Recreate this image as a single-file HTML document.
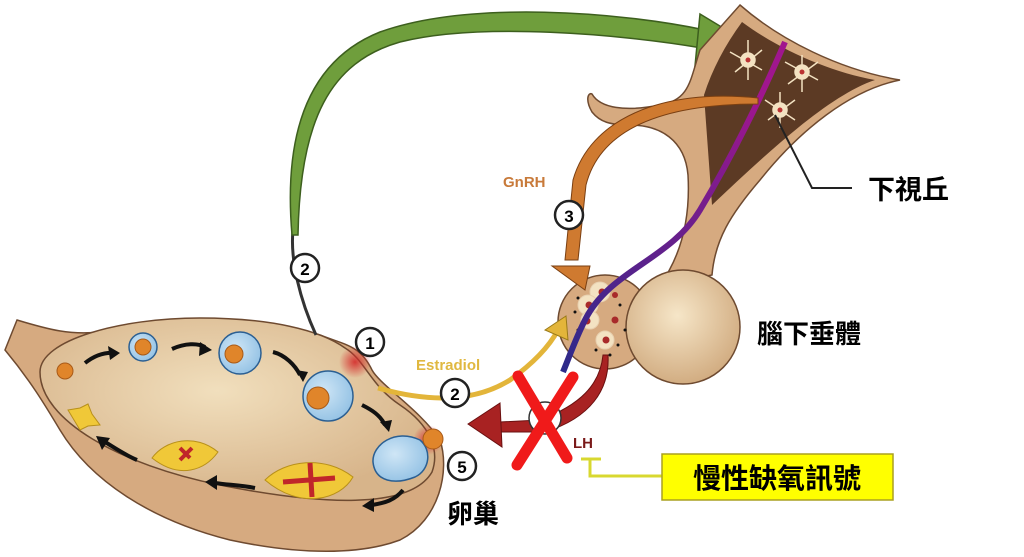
<!DOCTYPE html>
<html><head><meta charset="utf-8"><style>
html,body{margin:0;padding:0;background:#fff;width:1024px;height:557px;overflow:hidden}
text{font-family:"Liberation Sans","Noto Sans CJK TC",sans-serif}
</style></head><body>
<svg width="1024" height="557" viewBox="0 0 1024 557" xmlns="http://www.w3.org/2000/svg">
<defs>
<radialGradient id="inner" cx="0.45" cy="0.4" r="0.6"><stop offset="0" stop-color="#f1dfbd"/><stop offset="1" stop-color="#d7b48a"/></radialGradient>
<radialGradient id="blue" cx="0.4" cy="0.4" r="0.7"><stop offset="0" stop-color="#cfe6f6"/><stop offset="1" stop-color="#8fbfe3"/></radialGradient>
<radialGradient id="post" cx="0.45" cy="0.4" r="0.6"><stop offset="0" stop-color="#f6e6c8"/><stop offset="1" stop-color="#d2ad82"/></radialGradient>
<radialGradient id="glow" r="0.5"><stop offset="0" stop-color="#d42a2a" stop-opacity="0.9"/><stop offset="1" stop-color="#d42a2a" stop-opacity="0"/></radialGradient>
<linearGradient id="purp" x1="0" y1="1" x2="0.3" y2="0"><stop offset="0" stop-color="#2c2a8a"/><stop offset="1" stop-color="#a0168e"/></linearGradient>
</defs>

<!-- Ovary -->
<path d="M17,320 C50,330 70,335 100,332 C160,320 260,318 320,335 C345,345 360,345 372,370 C380,385 420,410 440,440 C450,470 440,520 400,540 C360,555 300,555 230,540 C150,520 90,480 60,430 C45,405 30,380 5,350 Z" fill="#d6aa80" stroke="#6e4a30" stroke-width="1.5"/>
<path d="M40,372 C40,340 120,318 200,318 C270,318 320,330 345,348 C365,360 370,385 400,405 C430,425 440,450 432,472 C410,510 320,505 220,485 C120,465 40,420 40,372 Z" fill="url(#inner)" stroke="#6e4a30" stroke-width="1.5"/>
<circle cx="355" cy="362" r="16" fill="url(#glow)"/>
<circle cx="428" cy="440" r="15" fill="url(#glow)"/>
<circle cx="65" cy="371" r="8" fill="#e0852a" stroke="#a85a18"/>
<circle cx="143" cy="347" r="14" fill="url(#blue)" stroke="#2b5f92" stroke-width="1.5"/>
<circle cx="143" cy="347" r="8" fill="#e0852a" stroke="#a85a18"/>
<circle cx="240" cy="353" r="21" fill="url(#blue)" stroke="#2b5f92" stroke-width="1.5"/>
<circle cx="234" cy="354" r="9" fill="#e0852a" stroke="#a85a18"/>
<circle cx="328" cy="396" r="25" fill="url(#blue)" stroke="#2b5f92" stroke-width="1.5"/>
<circle cx="318" cy="398" r="11" fill="#e0852a" stroke="#a85a18"/>
<path d="M420,440 C395,428 372,445 373,462 C375,482 395,485 415,477 C430,470 432,450 420,440 Z" fill="url(#blue)" stroke="#2b5f92" stroke-width="1.5"/>
<circle cx="433" cy="439" r="10" fill="#e0852a" stroke="#a85a18"/>
<path d="M68,410 L80,408 L88,404 L92,414 L100,425 L88,426 L80,430 Z" fill="#f0c838" stroke="#b8901a"/>
<path d="M152,458 C165,440 195,433 218,452 C205,470 180,480 152,458 Z" fill="#f0c838" stroke="#b8901a"/>
<path d="M180,448 L190,458 M192,448 L180,460" stroke="#c0262a" stroke-width="4"/>
<path d="M265,480 C285,460 325,455 353,477 C340,500 300,510 265,480 Z" fill="#f0c838" stroke="#b8901a"/>
<path d="M283,482 L335,478 M310,463 L312,497" stroke="#c0262a" stroke-width="5"/>
<g fill="none" stroke="#111" stroke-width="4">
<path d="M85,363 C95,355 105,352 115,353"/><path d="M172,349 C185,343 198,343 205,347"/>
<path d="M273,352 C285,355 295,365 300,375"/><path d="M362,405 C372,410 380,415 385,425"/>
<path d="M403,490 C395,500 385,503 372,505"/><path d="M255,488 C240,485 228,485 215,483"/>
<path d="M137,460 C125,455 115,448 105,442"/>
</g>
<g fill="#111">
<polygon points="120,353 108,346 110,360"/><polygon points="212,350 200,342 199,356"/>
<polygon points="303,382 296,370 308,372"/><polygon points="389,432 380,422 392,420"/>
<polygon points="362,506 374,498 374,512"/><polygon points="205,482 217,475 217,490"/>
<polygon points="96,436 110,438 102,450"/>
</g>

<!-- Green arrow -->
<path d="M316,335 C300,300 290,260 293,230" fill="none" stroke="#333" stroke-width="3"/>
<path d="M292,235 C283,130 310,60 380,32 C470,0 620,12 705,30 L702,48 C620,34 480,22 400,42 C330,62 300,120 298,235 Z" fill="#6f9e3c" stroke="#3d5f1e" stroke-width="1.5"/>
<polygon points="700,14 748,43 695,66" fill="#6f9e3c" stroke="#3d5f1e" stroke-width="1.5"/>
<circle cx="305" cy="268" r="14" fill="#fff" stroke="#222" stroke-width="2.5"/>
<text x="305" y="275" font-size="17" font-weight="bold" text-anchor="middle">2</text>

<!-- Hypothalamus & pituitary -->
<path d="M740,5 C780,40 840,70 900,80 C850,90 800,130 760,180 C730,215 715,240 712,275 L660,285 C685,250 690,210 688,175 C685,140 660,125 630,125 C610,125 600,122 592,112 C585,100 588,92 592,94 C600,108 625,112 660,105 C690,100 690,80 700,50 Z" fill="#d6aa80" stroke="#6e4a30" stroke-width="1.5"/>
<path d="M742,22 C780,50 830,72 875,80 C830,95 770,150 712,205 L704,95 C712,70 725,45 742,22 Z" fill="#5c3a24"/>
<g fill="#f3e2c2" stroke="#f3e2c2" stroke-width="1.5">
<circle cx="748" cy="60" r="7"/><circle cx="802" cy="72" r="7"/><circle cx="780" cy="110" r="7"/>
<path d="M730,52 L762,70 M748,40 L748,80 M735,72 L762,50" fill="none"/>
<path d="M785,62 L818,80 M802,55 L802,92 M788,84 L818,62" fill="none"/>
<path d="M765,100 L795,120 M780,92 L780,128 M768,120 L795,100" fill="none"/>
</g>
<circle cx="748" cy="60" r="2.5" fill="#b33"/><circle cx="802" cy="72" r="2.5" fill="#b33"/><circle cx="780" cy="110" r="2.5" fill="#b33"/>
<circle cx="605" cy="322" r="47" fill="#d6aa80" stroke="#6e4a30" stroke-width="1.5"/>
<circle cx="683" cy="327" r="57" fill="url(#post)" stroke="#6e4a30" stroke-width="1.5"/>
<g fill="#f3e2c2" stroke="#e8d0b0"><circle cx="600" cy="292" r="10"/><circle cx="588" cy="305" r="10"/><circle cx="590" cy="320" r="9"/><circle cx="605" cy="340" r="9"/></g>
<g fill="#a82a2a"><circle cx="602" cy="292" r="3.5"/><circle cx="589" cy="305" r="3.5"/><circle cx="587" cy="321" r="3.5"/><circle cx="606" cy="340" r="3.5"/><circle cx="615" cy="320" r="3.5"/><circle cx="615" cy="295" r="3"/></g>
<g fill="#111"><circle cx="578" cy="298" r="1.5"/><circle cx="575" cy="312" r="1.5"/><circle cx="620" cy="305" r="1.5"/><circle cx="625" cy="330" r="1.5"/><circle cx="610" cy="355" r="1.5"/><circle cx="618" cy="345" r="1.5"/><circle cx="596" cy="350" r="1.5"/><circle cx="578" cy="330" r="1.5"/></g>
<path d="M785,42 C760,100 730,160 700,210 C670,260 610,270 585,320 C575,340 570,355 563,372" fill="none" stroke="url(#purp)" stroke-width="6"/>
<path d="M775,115 L812,188 L852,188" fill="none" stroke="#222" stroke-width="2"/>
<!-- GnRH arrow -->
<path d="M758,98 C660,88 590,120 573,180 L565,260 L578,260 L586,185 C600,130 660,104 758,104 Z" fill="#cf7a30" stroke="#7a3f12" stroke-width="1"/>
<polygon points="552,266 590,266 585,290" fill="#cf7a30" stroke="#7a3f12"/>
<circle cx="569" cy="215" r="14" fill="#fff" stroke="#222" stroke-width="2.5"/>
<text x="569" y="222" font-size="17" font-weight="bold" text-anchor="middle">3</text>
<text x="503" y="187" font-size="15" font-weight="bold" fill="#c87a3a">GnRH</text>

<!-- Estradiol -->
<path d="M378,388 C420,400 470,405 510,380 C535,362 550,345 558,330" fill="none" stroke="#e3b53a" stroke-width="5"/>
<polygon points="545,330 566,316 568,340" fill="#e3b53a" stroke="#9a7a18"/>
<circle cx="455" cy="393" r="14" fill="#fff" stroke="#222" stroke-width="2.5"/>
<text x="455" y="400" font-size="17" font-weight="bold" text-anchor="middle">2</text>
<text x="416" y="370" font-size="15" font-weight="bold" fill="#e0b840">Estradiol</text>
<circle cx="370" cy="342" r="14" fill="#fff" stroke="#222" stroke-width="2.5"/>
<text x="370" y="349" font-size="17" font-weight="bold" text-anchor="middle">1</text>
<circle cx="462" cy="466" r="14" fill="#fff" stroke="#222" stroke-width="2.5"/>
<text x="462" y="473" font-size="17" font-weight="bold" text-anchor="middle">5</text>

<!-- LH arrow -->
<path d="M603,355 C600,385 580,405 540,420 L500,422 L500,432 L545,432 C590,418 610,390 608,355 Z" fill="#a82222" stroke="#6a1010"/>
<polygon points="468,424 500,403 502,447" fill="#a82222" stroke="#6a1010"/>
<circle cx="545" cy="418" r="16" fill="#fff" stroke="#333" stroke-width="1.5"/>
<path d="M518,376 L567,458 M573,377 L517,465" stroke="#f01a1a" stroke-width="11" stroke-linecap="round"/>
<text x="573" y="448" font-size="15" font-weight="bold" fill="#7a1a1a">LH</text>
<path d="M581,459 L601,459 M590,459 L590,476 L663,476" fill="none" stroke="#d8d830" stroke-width="3"/>
<rect x="662" y="454" width="231" height="46" fill="#ffff00" stroke="#aaa020" stroke-width="1.5"/>
<text x="777" y="488" font-size="28" font-weight="bold" text-anchor="middle">慢性缺氧訊號</text>
<text x="868" y="199" font-size="27" font-weight="bold">下視丘</text>
<text x="757" y="343" font-size="26" font-weight="bold">腦下垂體</text>
<text x="447" y="523" font-size="26" font-weight="bold">卵巢</text>
</svg>
</body></html>
